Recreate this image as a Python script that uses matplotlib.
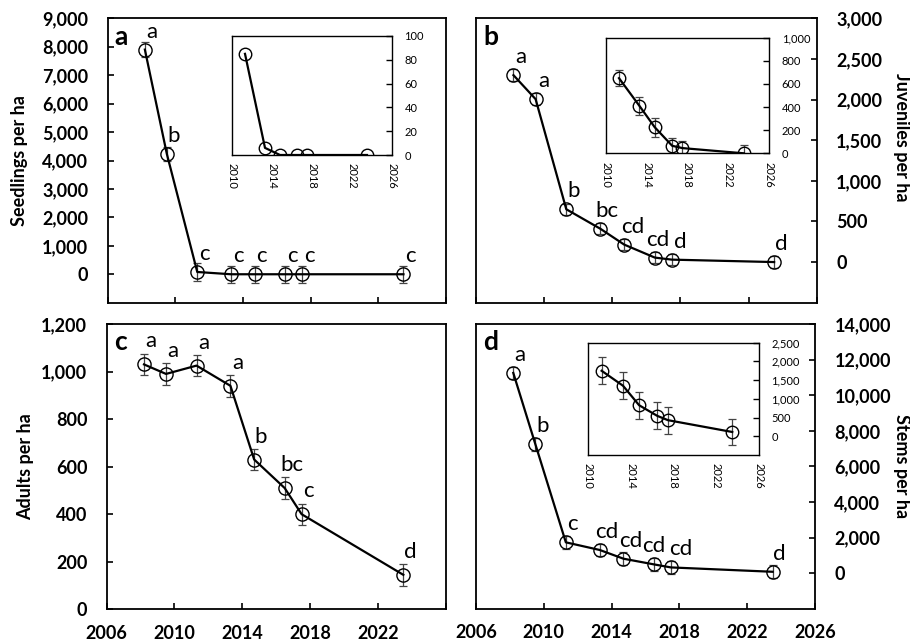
import matplotlib
matplotlib.use('Agg')
import matplotlib.pyplot as plt
from matplotlib.ticker import FuncFormatter

plt.rcParams['font.family'] = ['Lato', 'DejaVu Sans']

# sampling years (shared by all panels)
years = [2008.2, 2009.5, 2011.3, 2013.3, 2014.7, 2016.5, 2017.5, 2023.5]
inset_years = [2011.3, 2013.3, 2014.8, 2016.5, 2017.5, 2023.5]

# a - seedlings
seedlings = [7900, 4230, 80, 0, 0, 0, 0, 0]
seedlings_err = [250, 250, 300, 300, 300, 300, 300, 300]
seedlings_sig = ['a', 'b', 'c', 'c', 'c', 'c', 'c', 'c']
seedlings_inset = [85, 6, 0, 0, 0, 0]

# b - juveniles
juveniles = [2300, 2005, 650, 410, 215, 55, 30, 0]
juveniles_err = [70, 70, 70, 70, 70, 70, 70, 70]
juveniles_sig = ['a', 'a', 'b', 'bc', 'cd', 'cd', 'd', 'd']
juveniles_inset = [650, 410, 225, 65, 45, 0]
juveniles_inset_err = [70, 80, 80, 70, 60, 70]

# c - adults
adults = [1030, 990, 1025, 940, 630, 510, 400, 145]
adults_err = [45, 45, 45, 45, 45, 45, 45, 45]
adults_sig = ['a', 'a', 'a', 'a', 'b', 'bc', 'c', 'd']

# d - stems
stems = [11250, 7250, 1730, 1300, 810, 490, 320, 75]
stems_err = [360, 360, 360, 360, 360, 360, 360, 360]
stems_sig = ['a', 'b', 'c', 'cd', 'cd', 'cd', 'cd', 'd']
stems_inset = [1750, 1350, 830, 545, 430, 115]
stems_inset_err = [360, 360, 360, 360, 360, 360]

W, H = 910, 644
fig = plt.figure(figsize=(W / 100, H / 100), dpi=100)


def box(l, t, r, b):
    return [l / W, 1 - b / H, (r - l) / W, (b - t) / H]


comma = FuncFormatter(lambda v, p: f'{v:,.0f}')


def draw(ax, x, y, err, ms=9.5):
    if err is not None:
        ax.errorbar(x, y, yerr=err, fmt='none', ecolor='#444444', elinewidth=0.9,
                    capsize=3, capthick=0.9, zorder=2)
    ax.plot(x, y, color='black', lw=1.6, marker='o', ms=ms, mfc='none',
            mec='black', mew=1.0, zorder=3)


def main_panel(rect, y, err, sig, letter, ylim, yticks, side, ylabel, lab_xy,
               xlabels, sig_off, sig_dx=None):
    ax = fig.add_axes(box(*rect))
    draw(ax, years, y, err)
    ax.set_xlim(2006, 2026)
    ax.set_ylim(*ylim)
    ax.set_yticks(yticks)
    ax.yaxis.set_major_formatter(comma)
    for s in ax.spines.values():
        s.set_linewidth(1.3)
    ax.set_xticks([2006, 2010, 2014, 2018, 2022, 2026])
    if xlabels:
        ax.set_xticklabels([str(v) for v in xlabels] + [''] * (6 - len(xlabels)))
    else:
        ax.set_xticklabels([])
    ax.tick_params(axis='x', direction='in', length=4.5, width=1.2, pad=11,
                   labelsize=13)
    if side == 'right':
        ax.yaxis.tick_right()
        ax.yaxis.set_label_position('right')
    ax.tick_params(axis='y', direction='in', length=4.5, width=1.2, pad=14,
                   labelsize=13)
    for t in ax.get_xticklabels() + ax.get_yticklabels():
        t.set_fontweight('bold')
    ax.set_ylabel(ylabel, fontsize=13, fontweight='bold',
                  rotation=270 if side == 'right' else 90,
                  va='center', ha='center')
    ax.yaxis.set_label_coords(*lab_xy)
    ax.annotate(letter, (0, 1), xycoords='axes fraction', xytext=(5, -19),
                textcoords='offset points', fontsize=19, fontweight='bold',
                ha='left', va='baseline')
    if sig_dx is None:
        sig_dx = [0] * len(y)
    for xv, yv, s, dx in zip(years, y, sig, sig_dx):
        ax.annotate(s, (xv, yv), xytext=(sig_off[0] + dx, sig_off[1]),
                    textcoords='offset points', ha='center', va='baseline',
                    fontsize=16)
    return ax


def inset(rect, y, err, ylim, yticks, fmt=None):
    ax = fig.add_axes(box(*rect))
    draw(ax, inset_years, y, err, ms=9)
    ax.set_xlim(2010, 2026)
    ax.set_ylim(*ylim)
    ax.set_xticks([2010, 2014, 2018, 2022, 2026])
    ax.set_xticklabels(['2010', '2014', '2018', '2022', '2026'], rotation=270)
    ax.set_yticks(yticks)
    if fmt:
        ax.yaxis.set_major_formatter(fmt)
    ax.yaxis.tick_right()
    ax.tick_params(axis='x', length=0, pad=6, labelsize=8)
    ax.tick_params(axis='y', direction='in', length=4, width=1.0, pad=9,
                   labelsize=8)
    for s in ax.spines.values():
        s.set_linewidth(1.0)
    return ax


main_panel((107.7, 18.3, 445.7, 302.7), seedlings, seedlings_err, seedlings_sig, 'a',
           (-1000, 9000), range(0, 9001, 1000), 'left', 'Seedlings per ha',
           (-0.262, 0.5), None, (5, 8.6))
main_panel((476, 18.3, 816.7, 302.7), juveniles, juveniles_err, juveniles_sig, 'b',
           (-500, 3000), range(0, 3001, 500), 'right', 'Juveniles per ha',
           (1.25, 0.58), None, (5, 8.6), [0, 1, 0, 0, 1, -3, 1, 0])
main_panel((106.7, 324, 445.7, 609.3), adults, adults_err, adults_sig, 'c',
           (0, 1200), range(0, 1201, 200), 'left', 'Adults per ha',
           (-0.238, 0.5), [2006, 2010, 2014, 2018, 2022], (5, 12.2))
main_panel((476, 324, 815, 608.7), stems, stems_err, stems_sig, 'd',
           (-2000, 14000), range(0, 14001, 2000), 'right', 'Stems per ha',
           (1.255, 0.5), [2006, 2010, 2014, 2018, 2022, 2026], (5, 8.6),
           [0, 0, 0, 0, 0, -5, 2, 0])

inset((232, 36, 392, 155), seedlings_inset, None, (0, 100), range(0, 101, 20))
inset((605.7, 37.7, 769.3, 153.3), juveniles_inset, juveniles_inset_err,
      (0, 1000), range(0, 1001, 200), comma)
inset((587.7, 342.7, 759, 455), stems_inset, stems_inset_err,
      (-500, 2500), range(0, 2501, 500), comma)

fig.savefig('out.png', dpi=100)
